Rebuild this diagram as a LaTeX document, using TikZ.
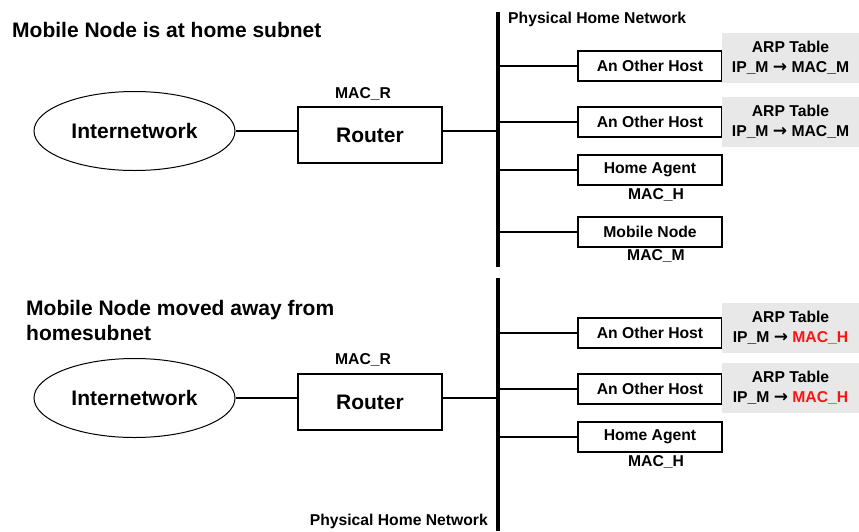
\documentclass[tikz,border=0pt]{standalone}
\usepackage{fontspec}
\setmainfont{Liberation Sans}
\newfontfamily\dejavu{DejaVu Sans}
\usetikzlibrary{shapes.geometric}
\definecolor{arpgray}{RGB}{232,232,232}
\definecolor{hotred}{RGB}{250,20,20}
\newcommand{\arr}{{\dejavu\bfseries\fontsize{17}{20}\selectfont →}}
\tikzset{
  small/.style={font=\fontsize{15.7}{20}\selectfont\bfseries, inner sep=0pt},
  big/.style={font=\fontsize{21}{25}\selectfont\bfseries, inner sep=0pt},
  hostbox/.style={small, draw, line width=1.2pt, minimum width=144pt, minimum height=30pt},
  arpbox/.style={small, fill=arpgray, minimum width=137pt, minimum height=50pt, align=center},
  cloud/.style={big, draw, ellipse, line width=1pt, minimum width=201pt, minimum height=79pt},
  routerbox/.style={big, draw, line width=1.2pt, minimum width=144pt, minimum height=56pt},
  conn/.style={line width=1.6pt},
  bus/.style={line width=4pt},
}
\begin{document}
\begin{tikzpicture}[x=1pt,y=-1pt]
\useasboundingbox (0,0) rectangle (859,531);
% ---------- top part ----------
\node[big, anchor=base west] (t1) at (12,37) {Mobile Node is at home subnet};
\coordinate (bt1) at (498,12);
\coordinate (bb1) at (498,267);
\draw[bus] (bt1) -- (bb1);
\node[small, anchor=base west] (phn1) at (508,23) {Physical Home Network};
\node[cloud] (i1) at (134.5,131) {Internetwork};
\node[routerbox] (r1) at (370,135) {Router};
\node[small] (mr1) at (363,94) {MAC\_R};
\draw[conn] (i1.east) -- (i1.east -| r1.west);
\draw[conn] (r1.east |- i1.east) -- (i1.east -| bt1);
\node[hostbox] (h11) at (650,66) {An Other Host};
\node[hostbox] (h12) at (650,122) {An Other Host};
\node[hostbox] (ha1) at (650,170) {Home Agent};
\node[hostbox] (mn1) at (650,232) {Mobile Node};
\node[small] (mh1) at (656,195) {MAC\_H};
\node[small] (mm1) at (656,256) {MAC\_M};
\node[arpbox] (a11) at (790.5,58) {ARP Table\\IP\_M \arr{} MAC\_M};
\node[arpbox] (a12) at (790.5,121.5) {ARP Table\\IP\_M \arr{} MAC\_M};
\foreach \n in {h11,h12,ha1,mn1} \draw[conn] (\n.west) -- (\n.west -| bt1);
% ---------- bottom part ----------
\node[big, anchor=base west, align=left] (t2a) at (26,315) {Mobile Node moved away from};
\node[big, anchor=base west, align=left] (t2b) at (26,340) {homesubnet};
\coordinate (bt2) at (498,278);
\coordinate (bb2) at (498,531);
\draw[bus] (bt2) -- (bb2);
\node[small, anchor=base east] (phn2) at (488,525) {Physical Home Network};
\node[cloud] (i2) at (134.5,398) {Internetwork};
\node[routerbox] (r2) at (370,402) {Router};
\node[small] (mr2) at (363,360) {MAC\_R};
\draw[conn] (i2.east) -- (i2.east -| r2.west);
\draw[conn] (r2.east |- i2.east) -- (i2.east -| bt2);
\node[hostbox] (h21) at (650,333) {An Other Host};
\node[hostbox] (h22) at (650,389) {An Other Host};
\node[hostbox] (ha2) at (650,437) {Home Agent};
\node[small] (mh2) at (656,462) {MAC\_H};
\node[arpbox] (a21) at (790.5,328) {ARP Table\\IP\_M \arr{} \textcolor{hotred}{MAC\_H}};
\node[arpbox] (a22) at (790.5,387.5) {ARP Table\\IP\_M \arr{} \textcolor{hotred}{MAC\_H}};
\foreach \n in {h21,h22,ha2} \draw[conn] (\n.west) -- (\n.west -| bt2);
\end{tikzpicture}
\end{document}
